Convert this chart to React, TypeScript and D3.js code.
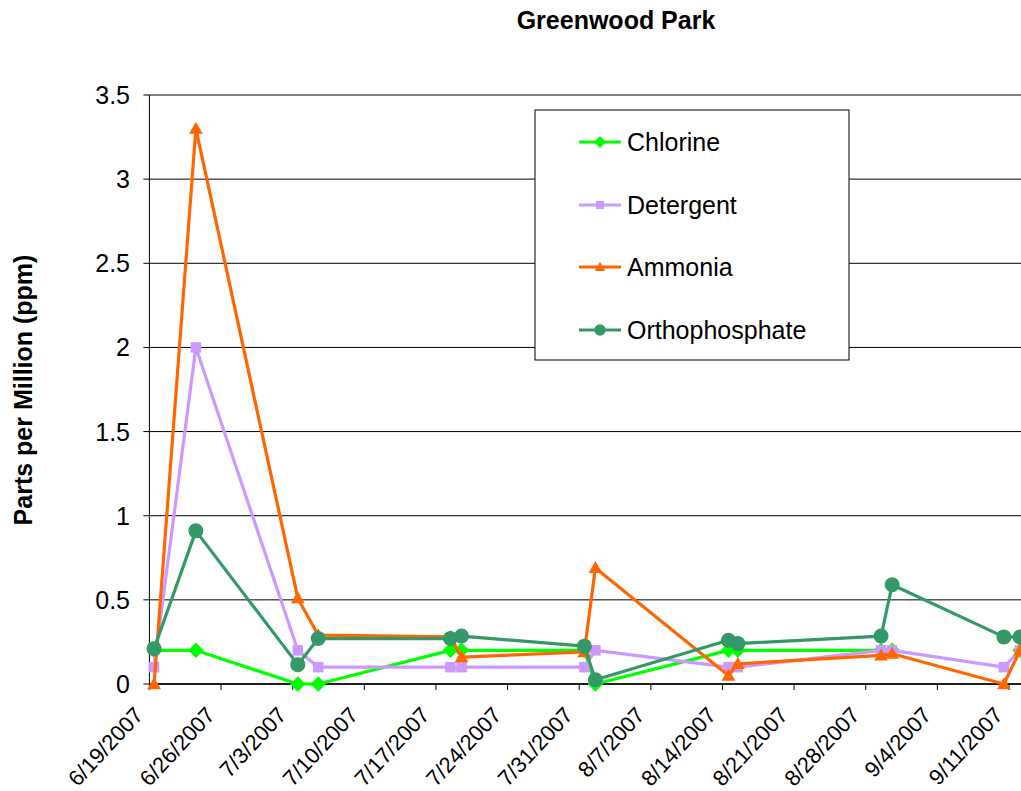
import React from "react";
import * as d3 from "d3";

const title = "Greenwood Park";
const yAxisTitle = "Parts per Million (ppm)";

const sampleDates: Date[] = [
  new Date(2007, 5, 19, 11),
  new Date(2007, 5, 23, 13),
  new Date(2007, 6, 3, 12),
  new Date(2007, 6, 5, 12),
  new Date(2007, 6, 18, 10),
  new Date(2007, 6, 19, 12),
  new Date(2007, 6, 31, 12),
  new Date(2007, 7, 1, 14),
  new Date(2007, 7, 14, 14),
  new Date(2007, 7, 15, 12),
  new Date(2007, 7, 29, 12),
  new Date(2007, 7, 30, 14),
  new Date(2007, 8, 10, 12),
  new Date(2007, 8, 12, 2),
];

const chlorine: (number | null)[] = [0.2, 0.2, 0, 0, 0.2, 0.2, 0.2, 0, 0.2, 0.2, 0.2, 0.2, null, 0.2];
const detergent: (number | null)[] = [0.1, 2.0, 0.2, 0.1, 0.1, 0.1, 0.1, 0.2, 0.1, 0.1, 0.2, 0.2, 0.1, 0.2];
const ammonia: (number | null)[] = [0, 3.3, 0.51, 0.29, 0.28, 0.16, 0.19, 0.69, 0.05, 0.12, 0.17, 0.18, 0, 0.2];
const orthophosphate: (number | null)[] = [0.21, 0.91, 0.115, 0.27, 0.27, 0.285, 0.225, 0.025, 0.26, 0.24, 0.285, 0.59, 0.28, 0.28];

const seriesNames = ["Chlorine", "Detergent", "Ammonia", "Orthophosphate"];
const seriesColors = ["#00FF00", "#CC99FF", "#FF6600", "#339966"];
const seriesShapes = ["diamond", "square", "triangle", "circle"];
const seriesValues = [chlorine, detergent, ammonia, orthophosphate];

const yTicks = [0, 0.5, 1, 1.5, 2, 2.5, 3, 3.5];
const yTickLabels = ["0", "0.5", "1", "1.5", "2", "2.5", "3", "3.5"];
const xStart = new Date(2007, 5, 19);
const xTickDates: Date[] = d3.range(13).map((i) => d3.timeDay.offset(xStart, 7 * i));

const FONT = "Arial, 'Liberation Sans', sans-serif";

function Marker({ shape, x, y, color, s }: { shape: string; x: number; y: number; color: string; s: number }) {
  if (shape === "diamond") {
    const r = s * 0.62;
    return <path d={`M${x},${y - r}L${x + r},${y}L${x},${y + r}L${x - r},${y}Z`} fill={color} />;
  }
  if (shape === "square") {
    const r = s * 0.42;
    return <rect x={x - r} y={y - r} width={2 * r} height={2 * r} fill={color} />;
  }
  if (shape === "triangle") {
    const r = s * 0.55;
    return <path d={`M${x},${y - r}L${x + r},${y + r * 0.75}L${x - r},${y + r * 0.75}Z`} fill={color} />;
  }
  return <circle cx={x} cy={y} r={s * 0.6} fill={color} />;
}

export default function App() {
  const W = 1021;
  const H = 791;
  const x = d3.scaleTime().domain([xStart, new Date(2007, 8, 11)]).range([149.4, 1009]);
  const y = d3.scaleLinear().domain([0, 3.5]).range([684, 95]);
  const left = 149.4;
  const right = 1030;

  const line = d3
    .line<[Date, number | null]>()
    .defined((d) => d[1] !== null)
    .x((d) => x(d[0]))
    .y((d) => y(d[1] as number));

  const legendRows = [142, 205, 267, 330];

  return (
    <svg width={W} height={H} style={{ position: "absolute", left: 0, top: 0, background: "#fff" }} fontFamily={FONT}>
      <rect x={0} y={0} width={W} height={H} fill="#fff" />
      <text x={616} y={29} textAnchor="middle" fontWeight="bold" fontSize={25}>
        {title}
      </text>
      {yTicks.map((t, i) => (
        <line key={"g" + i} x1={left} x2={right} y1={y(t)} y2={y(t)} stroke="#000" strokeWidth={1} />
      ))}
      <line x1={left} x2={left} y1={y(3.5)} y2={y(0)} stroke="#000" strokeWidth={1} />
      {yTicks.map((t, i) => (
        <g key={"yt" + i}>
          <line x1={left - 6} x2={left} y1={y(t)} y2={y(t)} stroke="#000" />
          <text x={130} y={y(t) + 9} textAnchor="end" fontSize={25}>
            {yTickLabels[i]}
          </text>
        </g>
      ))}
      <line x1={left} x2={right} y1={y(0)} y2={y(0)} stroke="#000" strokeWidth={1.5} />
      {xTickDates.map((d, i) => (
        <g key={"xt" + i}>
          <line x1={x(d)} x2={x(d)} y1={y(0)} y2={y(0) + 6} stroke="#000" />
          <text
            transform={`translate(${x(d) - 5},${y(0) + 32}) rotate(-47)`}
            textAnchor="end"
            fontSize={22}
          >
            {`${d.getMonth() + 1}/${d.getDate()}/${d.getFullYear()}`}
          </text>
        </g>
      ))}
      <text
        transform={`translate(32,390) rotate(-90)`}
        textAnchor="middle"
        fontWeight="bold"
        fontSize={25}
      >
        {yAxisTitle}
      </text>
      {seriesValues.map((vals, si) => {
        const pts: [Date, number | null][] = sampleDates.map((d, i) => [d, vals[i]]);
        return (
          <g key={"s" + si}>
            <path d={line(pts) || ""} fill="none" stroke={seriesColors[si]} strokeWidth={3.2} strokeLinejoin="round" />
            {pts
              .filter((p) => p[1] !== null)
              .map((p, i) => (
                <Marker key={i} shape={seriesShapes[si]} x={x(p[0])} y={y(p[1] as number)} color={seriesColors[si]} s={12.5} />
              ))}
          </g>
        );
      })}
      <rect x={535} y={110} width={314} height={250} fill="#fff" stroke="#000" strokeWidth={1} />
      {seriesNames.map((n, i) => (
        <g key={"l" + i}>
          <line x1={579} x2={621} y1={legendRows[i]} y2={legendRows[i]} stroke={seriesColors[i]} strokeWidth={3} />
          <Marker shape={seriesShapes[i]} x={600} y={legendRows[i]} color={seriesColors[i]} s={9.5} />
          <text x={627} y={legendRows[i] + 9} fontSize={25}>
            {n}
          </text>
        </g>
      ))}
    </svg>
  );
}
